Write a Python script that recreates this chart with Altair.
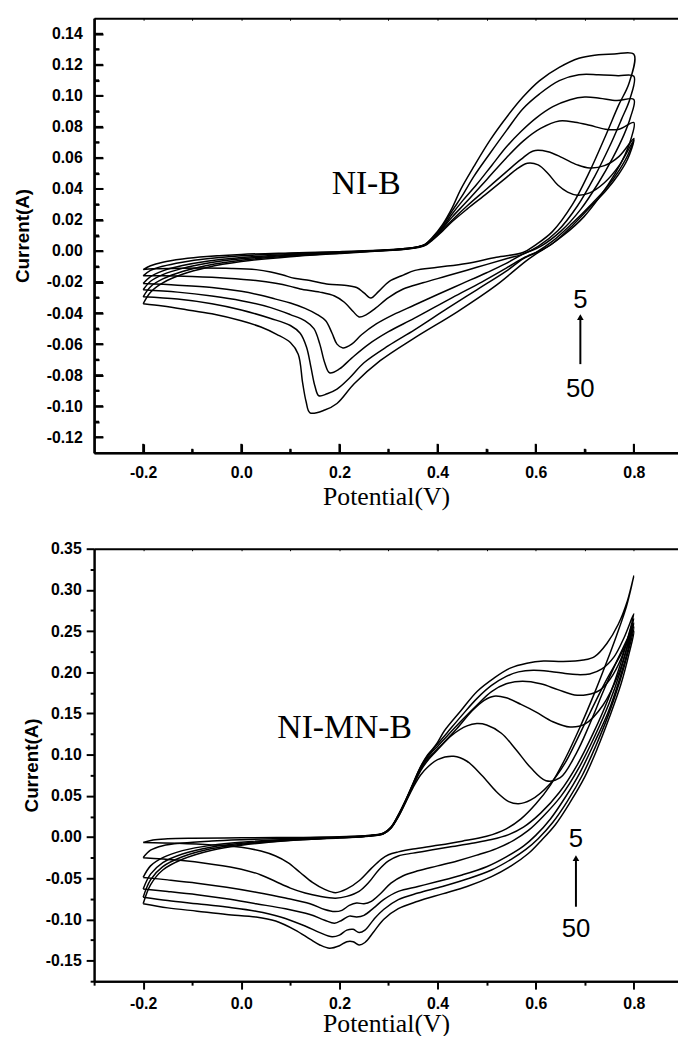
import altair as alt
import pandas as pd

# ---------------- NI-B (upper panel): six CV cycles, (potential V, current A) ----------------
nib_c1 = [(-0.2,-0.012),(-0.185,-0.0095),(-0.16,-0.0072),(-0.12,-0.0052),(-0.07,-0.0036),(0.0,-0.0022),(0.1,-0.0012),(0.2,-0.0004),(0.28,0.0005),(0.33,0.0015),(0.36,0.0028),(0.375,0.0045),(0.39,0.009),(0.41,0.017),(0.43,0.028),(0.447,0.0396),(0.474,0.0545),(0.507,0.0715),(0.541,0.0864),(0.574,0.0992),(0.608,0.1098),(0.648,0.1183),(0.688,0.1242),(0.72,0.1262),(0.76,0.127),(0.8,0.1268),
          (0.79,0.108),(0.769,0.094),(0.742,0.074),(0.708,0.05),(0.675,0.03),(0.634,0.0125),(0.6,0.004),(0.574,-0.001),(0.52,-0.004),(0.459,-0.008),(0.4,-0.0105),(0.354,-0.0125),(0.33,-0.0155),(0.301,-0.0197),(0.28,-0.026),(0.264,-0.0303),(0.25,-0.027),(0.235,-0.0235),(0.21,-0.022),(0.178,-0.0214),(0.14,-0.019),(0.108,-0.0176),(0.085,-0.0155),(0.06,-0.0135),(0.03,-0.012),(-0.02,-0.0112),(-0.08,-0.011),(-0.14,-0.0112),(-0.18,-0.0115),(-0.2,-0.012)]
nib_c2 = [(-0.2,-0.016),(-0.185,-0.0125),(-0.16,-0.0098),(-0.12,-0.0072),(-0.07,-0.005),(0.0,-0.0031),(0.1,-0.0016),(0.2,-0.0006),(0.28,0.0004),(0.33,0.0014),(0.36,0.0027),(0.375,0.0043),(0.39,0.0085),(0.41,0.016),(0.43,0.026),(0.45,0.0355),(0.474,0.0481),(0.507,0.063),(0.541,0.0779),(0.574,0.0917),(0.608,0.1013),(0.648,0.1098),(0.688,0.1136),(0.728,0.1136),(0.768,0.113),(0.8,0.1126),
          (0.792,0.098),(0.775,0.085),(0.75,0.067),(0.72,0.048),(0.685,0.029),(0.645,0.013),(0.605,0.003),(0.574,-0.002),(0.54,-0.005),(0.48,-0.0105),(0.42,-0.016),(0.37,-0.0205),(0.33,-0.0245),(0.3,-0.03),(0.273,-0.037),(0.255,-0.041),(0.24,-0.0425),(0.228,-0.039),(0.21,-0.033),(0.19,-0.029),(0.16,-0.0265),(0.12,-0.0245),(0.1,-0.0228),(0.07,-0.0208),(0.03,-0.019),(-0.03,-0.0175),(-0.1,-0.0165),(-0.16,-0.016),(-0.2,-0.016)]
nib_c3 = [(-0.2,-0.021),(-0.185,-0.0165),(-0.16,-0.0128),(-0.12,-0.0094),(-0.07,-0.0066),(0.0,-0.0042),(0.1,-0.0022),(0.2,-0.0009),(0.28,0.0003),(0.33,0.0013),(0.36,0.0026),(0.375,0.0041),(0.39,0.008),(0.41,0.015),(0.43,0.024),(0.45,0.032),(0.48,0.043),(0.51,0.055),(0.54,0.067),(0.57,0.077),(0.6,0.0855),(0.635,0.093),(0.67,0.0975),(0.7,0.0992),(0.73,0.0985),(0.765,0.097),(0.8,0.0977),
          (0.793,0.086),(0.78,0.075),(0.757,0.06),(0.728,0.044),(0.692,0.027),(0.652,0.013),(0.61,0.003),(0.574,-0.002),(0.54,-0.008),(0.5,-0.014),(0.45,-0.021),(0.4,-0.028),(0.353,-0.0348),(0.31,-0.041),(0.275,-0.047),(0.245,-0.054),(0.225,-0.06),(0.207,-0.0625),(0.195,-0.06),(0.185,-0.053),(0.172,-0.045),(0.155,-0.041),(0.13,-0.037),(0.1,-0.0335),(0.07,-0.031),(0.04,-0.0285),(0.0,-0.026),(-0.06,-0.0235),(-0.13,-0.022),(-0.2,-0.021)]
nib_c4 = [(-0.2,-0.025),(-0.185,-0.0195),(-0.16,-0.0152),(-0.12,-0.0112),(-0.07,-0.0079),(0.0,-0.005),(0.1,-0.0027),(0.2,-0.0011),(0.28,0.0002),(0.33,0.0012),(0.36,0.0025),(0.375,0.004),(0.39,0.0078),(0.41,0.0145),(0.43,0.022),(0.46,0.032),(0.5,0.046),(0.54,0.06),(0.575,0.071),(0.61,0.079),(0.648,0.0838),(0.68,0.083),(0.71,0.081),(0.742,0.0785),(0.77,0.0785),(0.8,0.0828),
          (0.794,0.072),(0.782,0.062),(0.762,0.05),(0.733,0.036),(0.698,0.022),(0.658,0.0105),(0.615,0.001),(0.578,-0.004),(0.54,-0.011),(0.49,-0.02),(0.43,-0.03),(0.353,-0.0433),(0.3,-0.052),(0.26,-0.06),(0.225,-0.069),(0.2,-0.076),(0.18,-0.0785),(0.17,-0.072),(0.16,-0.06),(0.148,-0.05),(0.13,-0.045),(0.1,-0.041),(0.06,-0.0365),(0.0,-0.032),(-0.06,-0.029),(-0.13,-0.0265),(-0.2,-0.025)]
nib_c5 = [(-0.2,-0.0295),(-0.185,-0.023),(-0.16,-0.018),(-0.12,-0.0132),(-0.07,-0.0093),(0.0,-0.0059),(0.1,-0.0032),(0.2,-0.0013),(0.28,0.0001),(0.33,0.0011),(0.36,0.0024),(0.375,0.0038),(0.39,0.0075),(0.41,0.0135),(0.43,0.02),(0.46,0.029),(0.5,0.04),(0.54,0.051),(0.57,0.059),(0.595,0.0645),(0.625,0.064),(0.655,0.06),(0.685,0.0555),(0.71,0.0535),(0.74,0.055),(0.77,0.061),(0.8,0.0725),
          (0.788,0.062),(0.77,0.052),(0.745,0.041),(0.713,0.03),(0.675,0.018),(0.635,0.0065),(0.6,-0.001),(0.574,-0.005),(0.54,-0.013),(0.48,-0.025),(0.42,-0.037),(0.353,-0.0508),(0.3,-0.061),(0.25,-0.072),(0.22,-0.082),(0.195,-0.089),(0.175,-0.092),(0.158,-0.0933),(0.15,-0.087),(0.142,-0.075),(0.133,-0.062),(0.12,-0.053),(0.1,-0.048),(0.06,-0.0435),(0.0,-0.038),(-0.06,-0.034),(-0.13,-0.031),(-0.2,-0.0295)]
nib_c6 = [(-0.2,-0.034),(-0.185,-0.0265),(-0.16,-0.0205),(-0.12,-0.015),(-0.07,-0.0106),(0.0,-0.0068),(0.1,-0.0037),(0.2,-0.0016),(0.28,0.0),(0.33,0.001),(0.36,0.0023),(0.375,0.0036),(0.39,0.0072),(0.41,0.0128),(0.43,0.019),(0.46,0.027),(0.5,0.037),(0.535,0.046),(0.56,0.0525),(0.583,0.0566),(0.605,0.0555),(0.625,0.05),(0.645,0.0425),(0.665,0.038),(0.685,0.036),(0.71,0.0375),(0.74,0.044),(0.77,0.055),(0.8,0.0712),
          (0.787,0.059),(0.768,0.049),(0.742,0.0385),(0.71,0.028),(0.675,0.0165),(0.635,0.005),(0.6,-0.002),(0.578,-0.007),(0.52,-0.022),(0.441,-0.039),(0.354,-0.0558),(0.283,-0.0707),(0.23,-0.0856),(0.195,-0.0983),(0.17,-0.1025),(0.14,-0.1043),(0.132,-0.097),(0.125,-0.085),(0.116,-0.0665),(0.1,-0.059),(0.072,-0.0537),(0.04,-0.049),(0.0,-0.045),(-0.06,-0.0405),(-0.112,-0.0378),(-0.16,-0.0355),(-0.2,-0.034)]

# ---------------- NI-MN-B (lower panel) ----------------
mnb_c1 = [(-0.2,-0.0065),(-0.18,-0.0035),(-0.15,-0.0022),(-0.1,-0.0015),(0.0,-0.001),(0.1,-0.0005),(0.2,0.0005),(0.26,0.002),(0.29,0.005),(0.305,0.012),(0.32,0.027),(0.335,0.045),(0.35,0.065),(0.365,0.085),(0.38,0.1),(0.39,0.107),(0.4,0.115),(0.414,0.129),(0.447,0.153),(0.481,0.177),(0.515,0.193),(0.548,0.205),(0.582,0.211),(0.616,0.2136),(0.656,0.213),(0.697,0.2148),(0.72,0.219),(0.745,0.235),(0.768,0.258),(0.787,0.287),(0.8,0.317),
          (0.785,0.28),(0.765,0.245),(0.745,0.213),(0.72,0.175),(0.69,0.133),(0.66,0.095),(0.63,0.063),(0.6,0.04),(0.57,0.022),(0.54,0.01),(0.5,0.001),(0.45,-0.005),(0.4,-0.01),(0.35,-0.0145),(0.32,-0.018),(0.3,-0.0215),(0.285,-0.027),(0.265,-0.038),(0.24,-0.053),(0.215,-0.063),(0.192,-0.0675),(0.17,-0.0635),(0.145,-0.055),(0.12,-0.043),(0.095,-0.031),(0.07,-0.023),(0.04,-0.017),(0.0,-0.0125),(-0.06,-0.0095),(-0.13,-0.0075),(-0.2,-0.0065)]
mnb_c2 = [(-0.2,-0.025),(-0.185,-0.016),(-0.16,-0.0105),(-0.12,-0.0072),(-0.06,-0.0048),(0.0,-0.0033),(0.1,-0.0015),(0.2,0.0),(0.26,0.0018),(0.29,0.0048),(0.305,0.0118),(0.32,0.0265),(0.335,0.0445),(0.35,0.0645),(0.365,0.0845),(0.38,0.099),(0.39,0.106),(0.4,0.113),(0.42,0.127),(0.45,0.148),(0.48,0.168),(0.51,0.184),(0.54,0.195),(0.565,0.2005),(0.595,0.2025),(0.63,0.201),(0.66,0.1985),(0.683,0.1972),(0.71,0.198),(0.735,0.204),(0.76,0.219),(0.78,0.242),(0.8,0.271),
          (0.787,0.24),(0.77,0.205),(0.748,0.168),(0.718,0.127),(0.685,0.088),(0.648,0.054),(0.61,0.029),(0.575,0.012),(0.545,0.003),(0.51,-0.003),(0.47,-0.0075),(0.43,-0.0115),(0.39,-0.0155),(0.35,-0.0195),(0.32,-0.023),(0.3,-0.029),(0.28,-0.04),(0.26,-0.055),(0.24,-0.066),(0.215,-0.072),(0.192,-0.0742),(0.16,-0.072),(0.13,-0.068),(0.1,-0.062),(0.07,-0.054),(0.04,-0.046),(0.0,-0.039),(-0.06,-0.033),(-0.13,-0.028),(-0.2,-0.025)]
mnb_c3 = [(-0.2,-0.049),(-0.185,-0.035),(-0.16,-0.025),(-0.12,-0.0165),(-0.06,-0.0098),(0.0,-0.0062),(0.1,-0.0027),(0.2,-0.0004),(0.26,0.0015),(0.29,0.0045),(0.305,0.0115),(0.32,0.026),(0.335,0.044),(0.35,0.064),(0.365,0.0835),(0.38,0.097),(0.39,0.104),(0.4,0.11),(0.42,0.123),(0.45,0.142),(0.48,0.16),(0.51,0.1765),(0.54,0.186),(0.573,0.189),(0.61,0.186),(0.645,0.179),(0.679,0.1725),(0.704,0.1727),(0.73,0.178),(0.752,0.192),(0.775,0.218),(0.8,0.265),
          (0.788,0.235),(0.772,0.2),(0.75,0.163),(0.72,0.122),(0.688,0.084),(0.652,0.05),(0.615,0.025),(0.585,0.008),(0.555,-0.004),(0.52,-0.014),(0.48,-0.022),(0.44,-0.029),(0.4,-0.035),(0.36,-0.041),(0.33,-0.047),(0.305,-0.056),(0.285,-0.068),(0.265,-0.078),(0.25,-0.081),(0.235,-0.08),(0.22,-0.083),(0.205,-0.089),(0.19,-0.0905),(0.17,-0.088),(0.14,-0.081),(0.09,-0.074),(0.03,-0.067),(-0.03,-0.061),(-0.09,-0.056),(-0.15,-0.052),(-0.2,-0.049)]
mnb_c4 = [(-0.2,-0.063),(-0.185,-0.045),(-0.16,-0.031),(-0.12,-0.0205),(-0.06,-0.012),(0.0,-0.0075),(0.1,-0.0033),(0.2,-0.0007),(0.26,0.0013),(0.29,0.0043),(0.305,0.0112),(0.32,0.0255),(0.335,0.0435),(0.35,0.063),(0.365,0.082),(0.38,0.095),(0.39,0.101),(0.41,0.113),(0.44,0.132),(0.47,0.153),(0.495,0.166),(0.515,0.171),(0.54,0.169),(0.57,0.161),(0.6,0.152),(0.635,0.14),(0.67,0.1336),(0.7,0.137),(0.737,0.16),(0.77,0.2),(0.8,0.26),
          (0.789,0.23),(0.772,0.194),(0.748,0.152),(0.72,0.115),(0.69,0.078),(0.66,0.048),(0.63,0.022),(0.6,0.002),(0.575,-0.011),(0.54,-0.024),(0.5,-0.036),(0.45,-0.046),(0.4,-0.054),(0.36,-0.06),(0.32,-0.066),(0.29,-0.076),(0.27,-0.086),(0.25,-0.095),(0.235,-0.097),(0.22,-0.096),(0.205,-0.101),(0.19,-0.1046),(0.17,-0.101),(0.14,-0.094),(0.09,-0.087),(0.03,-0.081),(-0.03,-0.075),(-0.09,-0.07),(-0.15,-0.066),(-0.2,-0.063)]
mnb_c5 = [(-0.2,-0.073),(-0.185,-0.052),(-0.16,-0.036),(-0.12,-0.024),(-0.06,-0.014),(0.0,-0.0088),(0.1,-0.0038),(0.2,-0.001),(0.26,0.0011),(0.29,0.0041),(0.305,0.011),(0.32,0.025),(0.335,0.043),(0.35,0.062),(0.365,0.08),(0.38,0.093),(0.4,0.106),(0.43,0.124),(0.46,0.135),(0.48,0.1377),(0.5,0.136),(0.53,0.126),(0.56,0.106),(0.59,0.084),(0.621,0.0684),(0.65,0.072),(0.683,0.102),(0.71,0.137),(0.74,0.18),(0.772,0.222),(0.8,0.255),
          (0.789,0.226),(0.772,0.19),(0.748,0.148),(0.722,0.11),(0.695,0.075),(0.665,0.044),(0.635,0.018),(0.605,-0.002),(0.58,-0.015),(0.55,-0.027),(0.51,-0.04),(0.46,-0.051),(0.41,-0.06),(0.36,-0.068),(0.32,-0.076),(0.29,-0.088),(0.27,-0.1),(0.252,-0.113),(0.24,-0.116),(0.228,-0.112),(0.215,-0.113),(0.2,-0.119),(0.185,-0.121),(0.16,-0.116),(0.13,-0.108),(0.08,-0.097),(0.03,-0.09),(-0.03,-0.085),(-0.09,-0.081),(-0.15,-0.077),(-0.2,-0.073)]
mnb_c6 = [(-0.2,-0.081),(-0.185,-0.058),(-0.16,-0.04),(-0.12,-0.027),(-0.06,-0.016),(0.0,-0.01),(0.1,-0.0043),(0.2,-0.0012),(0.26,0.001),(0.29,0.004),(0.305,0.0108),(0.32,0.0245),(0.335,0.042),(0.35,0.06),(0.365,0.075),(0.38,0.085),(0.4,0.094),(0.433,0.098),(0.46,0.092),(0.49,0.075),(0.52,0.055),(0.545,0.043),(0.565,0.0403),(0.59,0.045),(0.629,0.0644),(0.66,0.09),(0.683,0.1167),(0.71,0.15),(0.74,0.186),(0.772,0.22),(0.8,0.25),
          (0.79,0.222),(0.774,0.186),(0.75,0.145),(0.726,0.108),(0.7,0.073),(0.67,0.042),(0.64,0.015),(0.61,-0.005),(0.585,-0.02),(0.55,-0.035),(0.51,-0.048),(0.46,-0.06),(0.41,-0.069),(0.36,-0.078),(0.32,-0.087),(0.29,-0.1),(0.27,-0.115),(0.252,-0.128),(0.24,-0.131),(0.228,-0.127),(0.215,-0.127),(0.2,-0.132),(0.18,-0.135),(0.16,-0.131),(0.14,-0.124),(0.11,-0.113),(0.07,-0.102),(0.03,-0.097),(-0.03,-0.094),(-0.09,-0.09),(-0.15,-0.086),(-0.2,-0.081)]

# annotations (data coordinates)
nib_label = {"text": ["NI-B"], "V": [0.2545], "I": [0.0432]}
nib_nums = {"text": ["5", "50"], "V": [0.691, 0.691], "I": [-0.0315, -0.0887]}
nib_arrow = {"V": [0.691], "I0": [-0.0729], "I1": [-0.0432], "tip": [-0.0426]}
mnb_label = {"text": ["NI-MN-B"], "V": [0.2105], "I": [0.1327]}
mnb_nums = {"text": ["5", "50"], "V": [0.682, 0.682], "I": [-0.002, -0.112]}
mnb_arrow = {"V": [0.682], "I0": [-0.0846], "I1": [-0.0262], "tip": [-0.0255]}

LF = "Liberation Sans"
SF = "Liberation Serif"
X_DOMAIN = [-0.3, 0.89]
W = 590
H_TOP = 439
H_BOT = 437


def to_df(loops):
    rows = []
    for k, loop in enumerate(loops):
        for i, (v, c) in enumerate(loop):
            rows.append({"cycle": k, "idx": i, "V": v, "I": c})
    return pd.DataFrame(rows)


def lab(dec):
    return "(datum.value < -1e-9 ? '-' : '') + format(abs(datum.value), '.%df')" % dec


def vals(start, stop, step):
    n = int(round((stop - start) / step))
    return [round(start + i * step, 4) for i in range(n + 1)]


def tick_axis(orient, values, size, offset=0, domain=False, width=2):
    kw = dict(orient=orient, values=values, ticks=True, tickSize=size, tickWidth=width,
              tickColor="black", labels=False, domain=domain, domainColor="black",
              domainWidth=2, grid=False, title=None)
    if offset:
        kw["offset"] = offset
    return alt.Axis(**kw)


def inner_ticks(xs, ys, ydom, H, xmaj, xmin, ymaj, ymin):
    """Ticks on the inside of the frame (bottom and left edges), lengths in pixels."""
    px_x = (X_DOMAIN[1] - X_DOMAIN[0]) / W
    px_y = (ydom[1] - ydom[0]) / H
    out = []
    for v, ln in ((xmaj, 9), (xmin, 4)):
        d = pd.DataFrame({"tx": v, "ya": [ydom[0]] * len(v), "yb": [ydom[0] + ln * px_y] * len(v)})
        out.append(alt.Chart(d).mark_rule(stroke="black", strokeWidth=2, opacity=1).encode(
            x=alt.X("tx:Q", scale=xs, axis=None),
            y=alt.Y("ya:Q", scale=ys, axis=None), y2="yb:Q"))
    for v, ln in ((ymaj, 9), (ymin, 5)):
        d = pd.DataFrame({"ty": v, "xa": [X_DOMAIN[0]] * len(v), "xb": [X_DOMAIN[0] + ln * px_x] * len(v)})
        out.append(alt.Chart(d).mark_rule(stroke="black", strokeWidth=2, opacity=1).encode(
            y=alt.Y("ty:Q", scale=ys, axis=None),
            x=alt.X("xa:Q", scale=xs, axis=None), x2="xb:Q"))
    return out


def build_panel(loops, ydom, xaxes, yaxes, label, nums, arrow, H, inner=None):
    df = to_df(loops)
    xs = alt.Scale(domain=X_DOMAIN, nice=False, zero=False)
    ys = alt.Scale(domain=ydom, nice=False, zero=False)
    layers = []
    lines = alt.Chart(df).mark_line(color="black", strokeWidth=1.5, interpolate="catmull-rom").encode(
        x=alt.X("V:Q", scale=xs, axis=xaxes[0]),
        y=alt.Y("I:Q", scale=ys, axis=yaxes[0]),
        detail="cycle:N",
        order="idx:Q",
    )
    layers.append(lines)
    for xa, ya in zip(xaxes[1:], yaxes[1:]):
        layers.append(alt.Chart(df).mark_point(opacity=0, size=1).encode(
            x=alt.X("V:Q", scale=xs, axis=xa),
            y=alt.Y("I:Q", scale=ys, axis=ya),
        ))
    if inner:
        layers += inner_ticks(xs, ys, ydom, H, *inner)
    lab_df = pd.DataFrame(label)
    layers.append(alt.Chart(lab_df).mark_text(font=SF, fontSize=34, color="black", align="center", baseline="middle").encode(
        x=alt.X("V:Q", scale=xs, axis=None), y=alt.Y("I:Q", scale=ys, axis=None), text="text:N"))
    num_df = pd.DataFrame(nums)
    layers.append(alt.Chart(num_df).mark_text(font=LF, fontSize=26, color="black", align="center", baseline="middle").encode(
        x=alt.X("V:Q", scale=xs, axis=None), y=alt.Y("I:Q", scale=ys, axis=None), text="text:N"))
    arr_df = pd.DataFrame(arrow)
    layers.append(alt.Chart(arr_df).mark_rule(color="black", strokeWidth=2).encode(
        x=alt.X("V:Q", scale=xs, axis=None), y=alt.Y("I0:Q", scale=ys, axis=None), y2="I1:Q"))
    layers.append(alt.Chart(arr_df).mark_point(shape="triangle-up", filled=True, color="black", opacity=1, size=45).encode(
        x=alt.X("V:Q", scale=xs, axis=None), y=alt.Y("tip:Q", scale=ys, axis=None)))
    return alt.layer(*layers).resolve_axis(x="independent", y="independent").properties(width=W, height=H)


# ---- upper panel axes (ticks pointing inward) ----
top_x_main = alt.Axis(orient="bottom", values=vals(-0.2, 0.8, 0.2), labelExpr=lab(1), labelFont=LF,
                      labelFontSize=16, labelFontWeight="bold", labelColor="black", labelPadding=12,
                      labelOverlap=False, tickSize=0, domainColor="black", domainWidth=2, grid=False,
                      title="Potential(V)", titleFont=SF, titleFontSize=26, titleFontWeight="normal",
                      titleColor="black", titlePadding=3)
top_y_main = alt.Axis(orient="left", values=vals(-0.12, 0.14, 0.02), labelExpr=lab(2), labelFont=LF,
                      labelFontSize=16, labelFontWeight="bold", labelColor="black", labelPadding=12,
                      labelOverlap=False, tickSize=0, domainColor="black", domainWidth=2, grid=False,
                      title="Current(A)", titleFont=LF, titleFontSize=19, titleFontWeight="bold",
                      titleColor="black", titlePadding=14)
# extra axes: top frame line, and inward ticks (axis moved onto the opposite edge, domain drawn on the frame)
top_xaxes = [top_x_main,
             tick_axis("bottom", vals(-0.3, 0.8, 0.1), 2, offset=-H_TOP, domain=True, width=1),
             tick_axis("top", vals(-0.2, 0.8, 0.2), 9, offset=-H_TOP, domain=True),
             tick_axis("top", vals(-0.1, 0.7, 0.2), 4, offset=-H_TOP, domain=True)]
top_yaxes = [top_y_main,
             None,
             tick_axis("right", vals(-0.12, 0.14, 0.02), 9, offset=-W, domain=True),
             tick_axis("right", vals(-0.11, 0.13, 0.02), 5, offset=-W, domain=True)]
top_inner = (vals(-0.2, 0.8, 0.2), vals(-0.1, 0.7, 0.2), vals(-0.12, 0.14, 0.02), vals(-0.11, 0.13, 0.02))

# ---- lower panel axes (ticks pointing outward) ----
bot_x_main = alt.Axis(orient="bottom", values=vals(-0.2, 0.8, 0.2), labelExpr=lab(1), labelFont=LF,
                      labelFontSize=16, labelFontWeight="bold", labelColor="black", labelPadding=7,
                      labelOverlap=False, tickSize=8, tickWidth=2, tickColor="black", domainColor="black",
                      domainWidth=2, grid=False, title="Potential(V)", titleFont=SF, titleFontSize=26,
                      titleFontWeight="normal", titleColor="black", titleY=30)
bot_y_main = alt.Axis(orient="left", values=vals(-0.15, 0.35, 0.05), labelExpr=lab(2), labelFont=LF,
                      labelFontSize=16, labelFontWeight="bold", labelColor="black", labelPadding=5,
                      labelOverlap=False, tickSize=8, tickWidth=2, tickColor="black", domainColor="black",
                      domainWidth=2, grid=False, title="Current(A)", titleFont=LF, titleFontSize=19,
                      titleFontWeight="bold", titleColor="black", titlePadding=4)
bot_xaxes = [bot_x_main,
             tick_axis("bottom", vals(-0.3, 0.7, 0.2), 4, domain=True),
             tick_axis("bottom", vals(-0.3, 0.8, 0.1), 2, offset=-H_BOT, domain=True, width=1)]
bot_yaxes = [bot_y_main,
             tick_axis("left", vals(-0.175, 0.325, 0.05), 4, domain=True),
             None]

top = build_panel([nib_c1, nib_c2, nib_c3, nib_c4, nib_c5, nib_c6], [-0.13, 0.15],
                  top_xaxes, top_yaxes, nib_label, nib_nums, nib_arrow, H_TOP, inner=top_inner)
bottom = build_panel([mnb_c1, mnb_c2, mnb_c3, mnb_c4, mnb_c5, mnb_c6], [-0.175, 0.35],
                     bot_xaxes, bot_yaxes, mnb_label, mnb_nums, mnb_arrow, H_BOT)

# the page is cut at the window's lower edge, as in the original figure
chart = alt.vconcat(top, bottom, spacing=32).properties(
    padding={"left": 5, "top": 4, "right": 0, "bottom": -6}
).configure_view(stroke=None)

chart.save("out.html", embed_options={"renderer": "svg", "actions": False})
